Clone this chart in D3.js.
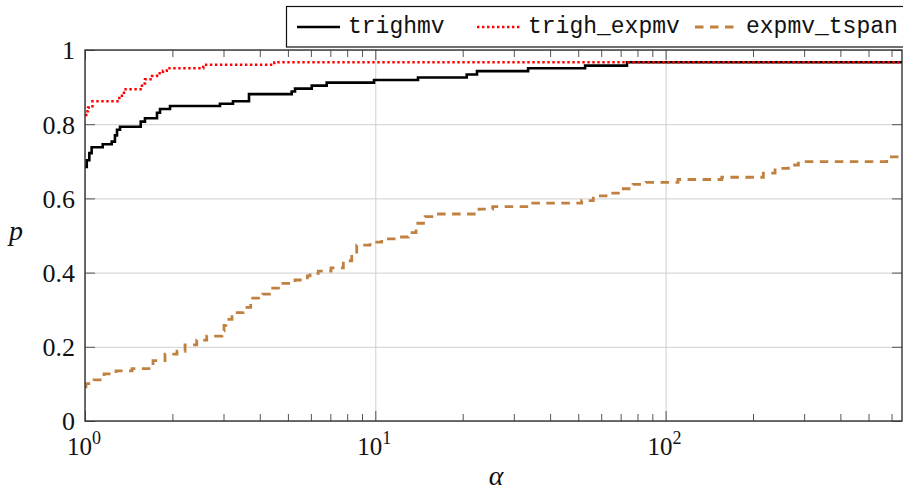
<!DOCTYPE html>
<html>
<head>
<meta charset="utf-8">
<script src="https://cdn.jsdelivr.net/npm/d3@7"></script>
<style>
  html, body { margin: 0; padding: 0; background: #fff; }
  svg { display: block; }
  .serif { font-family: "Liberation Serif", "DejaVu Serif", "Tinos", "Times New Roman", "Times", "Noto Serif", "FreeSerif", serif; }
  .mono { font-family: "Liberation Mono", "Courier New", "DejaVu Sans Mono", monospace; }
</style>
</head>
<body>
<svg id="chart" width="903" height="492"></svg>
<script>
// ---- Data (performance profile) ----
const seriesNames = ["trighmv", "trigh_expmv", "expmv_tspan"];

const alphaTrighmv = [1.000, 1.014, 1.035, 1.054, 1.151, 1.236, 1.268, 1.289, 1.320, 1.556, 1.609, 1.770, 1.813, 1.963,
  2.917, 3.234, 3.672, 5.152, 5.290, 6.040, 6.800, 9.900, 14.03, 20.65, 22.40, 33.60, 52.80, 73.60];
const pTrighmv = [0.685, 0.703, 0.722, 0.738, 0.746, 0.753, 0.770, 0.785, 0.793, 0.807, 0.816, 0.831, 0.841, 0.849,
  0.855, 0.862, 0.881, 0.888, 0.896, 0.904, 0.912, 0.919, 0.926, 0.934, 0.943, 0.951, 0.958, 0.967];

const alphaTrighExpmv = [1.000, 1.010, 1.024, 1.061, 1.313, 1.362, 1.571, 1.609, 1.702, 1.770, 1.856, 1.912, 2.556, 4.490];
const pTrighExpmv = [0.825, 0.835, 0.845, 0.862, 0.877, 0.894, 0.910, 0.921, 0.930, 0.937, 0.944, 0.951, 0.960, 0.967];

const alphaExpmvTspan = [1.000, 1.008, 1.074, 1.163, 1.279, 1.452, 1.715, 1.886, 2.075, 2.211, 2.426, 2.626, 2.964, 3.012,
  3.060, 3.209, 3.502, 3.722, 4.094, 4.432, 4.722, 5.290, 5.833, 5.959, 6.364, 7.037, 7.760, 8.294, 8.630, 9.588,
  10.52, 11.85, 12.99, 13.81, 14.84, 16.19, 22.76, 25.37, 33.65, 51.40, 56.35, 63.47, 68.73, 77.20, 85.59, 110.3,
  156.1, 217.1, 238.2, 264.7, 286.6, 577.7];
const pExpmvTspan = [0.092, 0.101, 0.111, 0.127, 0.135, 0.141, 0.163, 0.180, 0.188, 0.205, 0.218, 0.229, 0.243, 0.258,
  0.274, 0.292, 0.306, 0.331, 0.342, 0.358, 0.371, 0.380, 0.391, 0.398, 0.404, 0.413, 0.432, 0.449, 0.474, 0.482,
  0.491, 0.496, 0.508, 0.533, 0.551, 0.558, 0.571, 0.578, 0.587, 0.594, 0.607, 0.614, 0.626, 0.638, 0.643, 0.651,
  0.657, 0.668, 0.681, 0.690, 0.699, 0.712];

const xDomain = [1, 652];
const xMajorTicks = [1, 10, 100];
const xMajorExponents = ["0", "1", "2"];
const yTicks = [0, 0.2, 0.4, 0.6, 0.8, 1];
const yTickLabels = ["0", "0.2", "0.4", "0.6", "0.8", "1"];

// ---- Layout ----
const svg = d3.select("#chart");
const L = 85, R = 902, T = 50, B = 421;

const x = d3.scaleLog().domain(xDomain).range([L, R]);
const y = d3.scaleLinear().domain([0, 1]).range([B, T]);

const xMinor = [];
for (let d = 1; d <= 100; d *= 10) for (let k = 2; k <= 9; k++) if (d * k <= xDomain[1]) xMinor.push(d * k);

const tickColor = "#555";
const gridColor = "#cfcfcf";

// grid
const grid = svg.append("g");
grid.append("g").attr("transform", `translate(0,${B})`)
  .call(d3.axisBottom(x).tickValues(xMajorTicks).tickSize(-(B - T)).tickFormat(""))
  .call(g => g.select(".domain").remove())
  .call(g => g.selectAll("line").attr("stroke", gridColor).attr("stroke-width", 1));
grid.append("g").attr("transform", `translate(${L},0)`)
  .call(d3.axisLeft(y).tickValues(yTicks).tickSize(-(R - L)).tickFormat(""))
  .call(g => g.select(".domain").remove())
  .call(g => g.selectAll("line").attr("stroke", gridColor).attr("stroke-width", 1));

// ticks
function styleTicks(g) {
  g.select(".domain").remove();
  g.selectAll("line").attr("stroke", tickColor).attr("stroke-width", 1);
}
svg.append("g").attr("transform", `translate(0,${B})`)
  .call(d3.axisBottom(x).tickValues(xMajorTicks).tickSize(-10).tickFormat("")).call(styleTicks);
svg.append("g").attr("transform", `translate(0,${B})`)
  .call(d3.axisBottom(x).tickValues(xMinor).tickSize(-7).tickFormat("")).call(styleTicks);
svg.append("g").attr("transform", `translate(0,${T})`)
  .call(d3.axisTop(x).tickValues(xMajorTicks).tickSize(-10).tickFormat("")).call(styleTicks);
svg.append("g").attr("transform", `translate(0,${T})`)
  .call(d3.axisTop(x).tickValues(xMinor).tickSize(-7).tickFormat("")).call(styleTicks);
const yAxisG = svg.append("g").attr("transform", `translate(${L},0)`)
  .call(d3.axisLeft(y).tickValues(yTicks).tickSize(-10).tickPadding(10)
    .tickFormat((d, i) => yTickLabels[i]))
  .call(styleTicks);
yAxisG.attr("font-family", null).attr("font-size", null);
yAxisG.selectAll("text")
  .attr("class", "serif")
  .attr("font-size", 26).attr("fill", "#111").attr("dy", "0.34em");
svg.append("g").attr("transform", `translate(${R},0)`)
  .call(d3.axisRight(y).tickValues(yTicks).tickSize(-10).tickFormat("")).call(styleTicks);

// x labels 10^k
const xl = svg.append("g").attr("class", "serif").attr("fill", "#111");
xMajorTicks.forEach((v, i) => {
  const t = xl.append("text").attr("x", x(v) - 1).attr("y", 455).attr("text-anchor", "middle").attr("font-size", 25);
  t.append("tspan").text("10");
  t.append("tspan").attr("font-size", 18).attr("dy", -11).text(xMajorExponents[i]);
});

// axis titles
svg.append("text").attr("class", "serif").attr("x", 496).attr("y", 485).attr("text-anchor", "middle")
  .attr("font-style", "italic").attr("font-size", 28).attr("fill", "#111").text("α");
svg.append("text").attr("class", "serif").attr("x", 16).attr("y", 240).attr("text-anchor", "middle")
  .attr("font-style", "italic").attr("font-size", 28).attr("fill", "#111").text("p");

// curves
svg.append("clipPath").attr("id", "plotclip").append("rect")
  .attr("x", L).attr("y", T - 3).attr("width", R - L).attr("height", B - T + 6);

const line = d3.line().x(d => x(d[0])).y(d => y(d[1])).curve(d3.curveStepAfter);
function pts(a, p) {
  const arr = a.map((v, i) => [v, p[i]]);
  arr.push([xDomain[1], p[p.length - 1]]);
  return arr;
}
const series = [
  { data: pts(alphaTrighmv, pTrighmv), color: "#000000", width: 2.6, dash: null },
  { data: pts(alphaTrighExpmv, pTrighExpmv), color: "#ff0000", width: 2.5, dash: "2.4,2.6" },
  { data: pts(alphaExpmvTspan, pExpmvTspan), color: "#bf8040", width: 2.8, dash: "8.5,6.5" }
];
const cg = svg.append("g").attr("clip-path", "url(#plotclip)");
series.forEach(s => {
  cg.append("path").attr("d", line(s.data)).attr("fill", "none")
    .attr("stroke", s.color).attr("stroke-width", s.width)
    .attr("stroke-dasharray", s.dash);
});

// frame
svg.append("rect").attr("x", L).attr("y", T).attr("width", R - L).attr("height", B - T)
  .attr("fill", "none").attr("stroke", "#333").attr("stroke-width", 1.4);

// legend
const lg = svg.append("g");
lg.append("rect").attr("x", 286.5).attr("y", 6.5).attr("width", 630).attr("height", 40.5)
  .attr("fill", "#fff").attr("stroke", "#111").attr("stroke-width", 1.2);
const legendItems = [
  { x0: 297, x1: 340, tx: 348 },
  { x0: 477, x1: 521, tx: 528 },
  { x0: 695, x1: 736, tx: 746 }
];
legendItems.forEach((it, i) => {
  lg.append("line").attr("x1", it.x0).attr("x2", it.x1).attr("y1", 27).attr("y2", 27)
    .attr("stroke", series[i].color).attr("stroke-width", series[i].width)
    .attr("stroke-dasharray", series[i].dash);
  lg.append("text").attr("class", "mono").attr("x", it.tx).attr("y", 33)
    .attr("font-size", 23).attr("fill", "#111").text(seriesNames[i]);
});
</script>
</body>
</html>
